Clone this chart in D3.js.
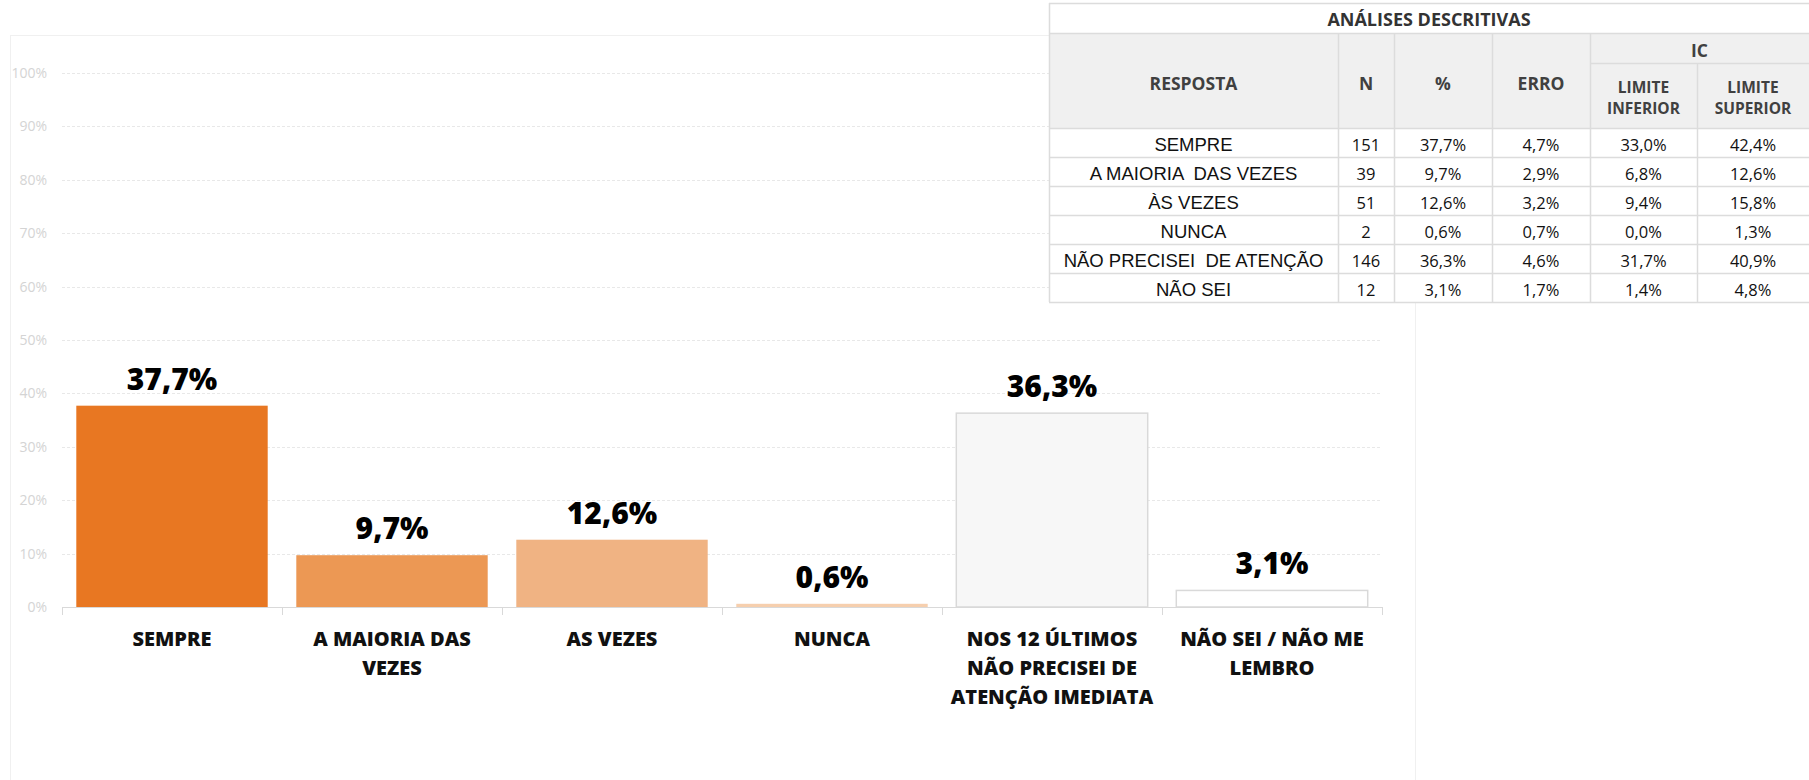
<!DOCTYPE html>
<html>
<head>
<meta charset="utf-8">
<script src="https://cdn.jsdelivr.net/npm/d3@7"></script>
<style>
  body { margin: 0; background: #fff; }
  svg { display: block; }
</style>
</head>
<body>
<svg id="chart"></svg>
<script>
// chart data
const categories = [
  ["SEMPRE"],
  ["A MAIORIA DAS", "VEZES"],
  ["AS VEZES"],
  ["NUNCA"],
  ["NOS 12 ÚLTIMOS", "NÃO PRECISEI DE", "ATENÇÃO IMEDIATA"],
  ["NÃO SEI / NÃO ME", "LEMBRO"]
];
const values = [37.7, 9.7, 12.6, 0.6, 36.3, 3.1];
const yTicks = [0, 10, 20, 30, 40, 50, 60, 70, 80, 90, 100];

// table data
const tableTitle = "ANÁLISES DESCRITIVAS";
const tableRespostas = ["SEMPRE", "A MAIORIA  DAS VEZES", "ÀS VEZES", "NUNCA", "NÃO PRECISEI  DE ATENÇÃO", "NÃO SEI"];
const tableN = ["151", "39", "51", "2", "146", "12"];
const tablePct = ["37,7%", "9,7%", "12,6%", "0,6%", "36,3%", "3,1%"];
const tableErro = ["4,7%", "2,9%", "3,2%", "0,7%", "4,6%", "1,7%"];
const tableLimInf = ["33,0%", "6,8%", "9,4%", "0,0%", "31,7%", "1,4%"];
const tableLimSup = ["42,4%", "12,6%", "15,8%", "1,3%", "40,9%", "4,8%"];

const barFill = ["#e87722", "#ec9854", "#f0b383", "#f6cfae", "#f7f7f7", "#ffffff"];
const barStroke = [null, null, null, null, "#d9d9d9", "#d9d9d9"];

const W = 1809, H = 780;
const svg = d3.select('#chart').attr('width', W).attr('height', H);

/********** chart frame **********/
svg.append('rect')
  .attr('x', 10.5).attr('y', 35.5)
  .attr('width', 1405).attr('height', 800)
  .attr('fill', 'none').attr('stroke', '#f0f0f0');

/********** scales **********/
const x = d3.scaleBand()
  .domain(d3.range(values.length))
  .range([62, 1382])
  .paddingInner(0.13)
  .paddingOuter(0.065);

const y = d3.scaleLinear()
  .domain([0, 100])
  .range([607, 73]);

/********** gridlines + y labels **********/
const grid = svg.append('g');
grid.selectAll('line')
  .data(yTicks.filter(d => d > 0))
  .join('line')
  .attr('x1', 62).attr('x2', 1382)
  .attr('y1', d => Math.round(y(d)) + 0.5)
  .attr('y2', d => Math.round(y(d)) + 0.5)
  .attr('stroke', '#e8e8e8')
  .attr('stroke-dasharray', '3,2');

const yAxis = svg.append('g')
  .attr('transform', 'translate(52,0)')
  .call(d3.axisLeft(y).tickValues(yTicks).tickFormat(d => d + '%').tickSize(0));
yAxis.select('.domain').remove();
yAxis.selectAll('text')
  .attr('x', -5)
  .attr('fill', '#d4d4d4')
  .style('font-family', 'Open Sans, sans-serif')
  .style('font-size', '14px');

/********** x axis **********/
svg.append('line')
  .attr('x1', 62).attr('x2', 1382)
  .attr('y1', 607.5).attr('y2', 607.5)
  .attr('stroke', '#d9d9d9');

const boundaries = d3.range(values.length + 1).map(i => 62 + i * x.step());
svg.append('g').selectAll('line')
  .data(boundaries)
  .join('line')
  .attr('x1', d => Math.round(d) + 0.5).attr('x2', d => Math.round(d) + 0.5)
  .attr('y1', 607).attr('y2', 615)
  .attr('stroke', '#d9d9d9');

/********** bars **********/
svg.append('g').selectAll('rect')
  .data(values)
  .join('rect')
  .attr('x', (d, i) => x(i))
  .attr('y', d => y(d))
  .attr('width', x.bandwidth())
  .attr('height', d => y(0) - y(d))
  .attr('fill', (d, i) => barFill[i])
  .attr('stroke', (d, i) => barStroke[i])
  .attr('stroke-width', 1.5);

/********** value labels **********/
svg.append('g').selectAll('text')
  .data(values)
  .join('text')
  .attr('x', (d, i) => x(i) + x.bandwidth() / 2)
  .attr('y', d => y(d) - 16)
  .attr('text-anchor', 'middle')
  .style('font-family', 'Open Sans, sans-serif')
  .style('font-weight', 800)
  .style('font-size', '30px')
  .attr('fill', '#000')
  .text(d => d.toFixed(1).replace('.', ',') + '%');

/********** category labels **********/
const cat = svg.append('g').selectAll('text')
  .data(categories)
  .join('text')
  .attr('text-anchor', 'middle')
  .style('font-family', 'Open Sans, sans-serif')
  .style('font-weight', 800)
  .style('font-size', '20px')
  .attr('fill', '#111');
cat.selectAll('tspan')
  .data((d, i) => d.map(t => ({ t, i })))
  .join('tspan')
  .attr('x', d => x(d.i) + x.bandwidth() / 2)
  .attr('y', (d, j) => 646 + j * 29)
  .text(d => d.t);

/********** table **********/
const colX = [1049, 1338, 1394, 1492, 1590, 1697, 1809];
const rowTop = 128, rowH = 29;
const tbl = svg.append('g');
const border = '#dcdcdc';

// backgrounds
tbl.append('rect').attr('x', colX[0]).attr('y', 3).attr('width', colX[6] - colX[0]).attr('height', 30).attr('fill', '#fff');
tbl.append('rect').attr('x', colX[0]).attr('y', 33).attr('width', colX[6] - colX[0]).attr('height', rowTop - 33).attr('fill', '#f0f0f0');
tbl.append('rect').attr('x', colX[0]).attr('y', rowTop).attr('width', colX[6] - colX[0]).attr('height', rowH * 6).attr('fill', '#fff');

// horizontal lines
const hLines = [3, 33, rowTop].concat(d3.range(1, 7).map(i => rowTop + i * rowH));
tbl.selectAll('line.h')
  .data(hLines)
  .join('line')
  .attr('class', 'h')
  .attr('x1', colX[0]).attr('x2', colX[6])
  .attr('y1', d => d + 0.5).attr('y2', d => d + 0.5)
  .attr('stroke', border).attr('stroke-width', 1.5);
tbl.append('line')
  .attr('x1', colX[4]).attr('x2', colX[6])
  .attr('y1', 63.5).attr('y2', 63.5)
  .attr('stroke', border).attr('stroke-width', 1.5);

// vertical lines
tbl.append('line').attr('x1', colX[0] + 0.5).attr('x2', colX[0] + 0.5).attr('y1', 3).attr('y2', rowTop + 6 * rowH)
  .attr('stroke', border).attr('stroke-width', 1.5);
tbl.selectAll('line.v')
  .data(colX.slice(1, 6))
  .join('line')
  .attr('class', 'v')
  .attr('x1', d => d + 0.5).attr('x2', d => d + 0.5)
  .attr('y1', (d, i) => i === 4 ? 63 : 33)
  .attr('y2', rowTop + 6 * rowH)
  .attr('stroke', border).attr('stroke-width', 1.5);

const headStyle = s => s
  .attr('text-anchor', 'middle')
  .style('font-family', 'Open Sans, sans-serif')
  .style('font-weight', 700)
  .style('font-size', '17.5px')
  .attr('fill', '#404040');

tbl.append('text').call(headStyle)
  .attr('x', (colX[0] + colX[6]) / 2).attr('y', 26)
  .style('font-size', '18px')
  .attr('fill', '#333')
  .text(tableTitle);

const headers = [
  { c: 0, lines: ["RESPOSTA"], y: [90], size: 17.5 },
  { c: 1, lines: ["N"], y: [90], size: 17.5 },
  { c: 2, lines: ["%"], y: [90], size: 17.5 },
  { c: 3, lines: ["ERRO"], y: [90], size: 17.5 },
  { c: 4, lines: ["LIMITE", "INFERIOR"], y: [93, 114], size: 15.5 },
  { c: 5, lines: ["LIMITE", "SUPERIOR"], y: [93, 114], size: 15.5 }
];
headers.forEach(h => {
  h.lines.forEach((t, j) => {
    tbl.append('text').call(headStyle)
      .attr('x', (colX[h.c] + colX[h.c + 1]) / 2)
      .attr('y', h.y[j])
      .style('font-size', h.size + 'px')
      .text(t);
  });
});
tbl.append('text').call(headStyle)
  .attr('x', (colX[4] + colX[6]) / 2).attr('y', 57)
  .text('IC');

// body cells
const columns = [tableRespostas, tableN, tablePct, tableErro, tableLimInf, tableLimSup];
columns.forEach((col, c) => {
  tbl.append('g').selectAll('text')
    .data(col)
    .join('text')
    .attr('x', (colX[c] + colX[c + 1]) / 2)
    .attr('y', (d, i) => rowTop + (i + 1) * rowH - 6)
    .attr('text-anchor', 'middle')
    .style('font-family', c === 0 ? 'Liberation Sans, Arial, sans-serif' : 'Open Sans, sans-serif')
    .style('font-size', c === 0 ? '18.5px' : '16.5px')
    .style('white-space', 'pre')
    .attr('fill', '#111')
    .text(d => d);
});
</script>
</body>
</html>
